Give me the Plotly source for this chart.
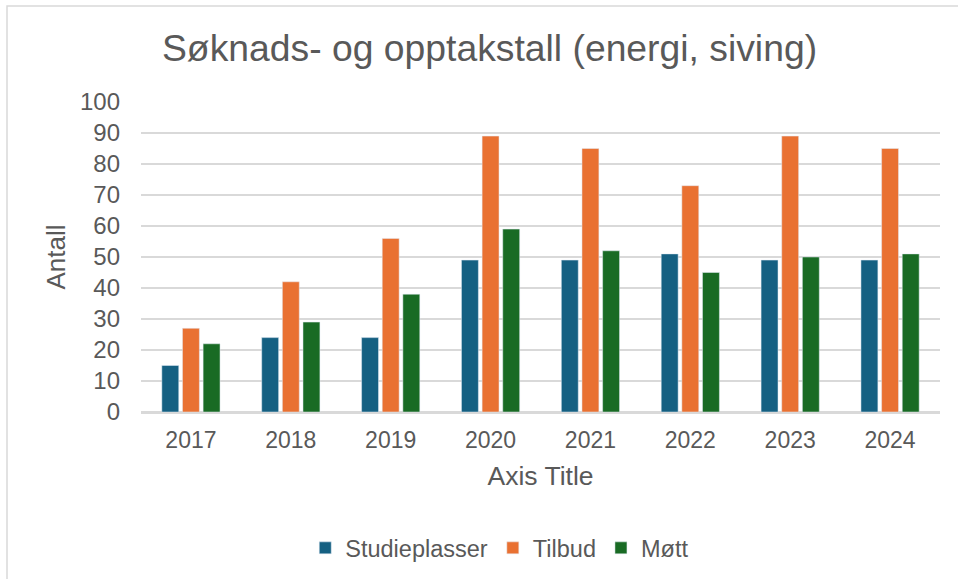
import plotly.graph_objects as go

years = ["2017", "2018", "2019", "2020", "2021", "2022", "2023", "2024"]
studieplasser = [15, 24, 24, 49, 49, 51, 49, 49]
tilbud = [27, 42, 56, 89, 85, 73, 89, 85]
mott = [22, 29, 38, 59, 52, 45, 50, 51]

font = "Liberation Sans, Arial, sans-serif"
grey = "#595959"

fig = go.Figure()
fig.add_trace(go.Bar(name="Studieplasser", x=years, y=studieplasser, marker_color="#156082"))
fig.add_trace(go.Bar(name="Tilbud", x=years, y=tilbud, marker_color="#E97132"))
fig.add_trace(go.Bar(name="Møtt", x=years, y=mott, marker_color="#196B24"))

fig.update_layout(
    width=958, height=579,
    margin=dict(l=141, r=18, t=102, b=167, autoexpand=False),
    paper_bgcolor="white", plot_bgcolor="white",
    barmode="group", bargap=0.38, bargroupgap=0.18,
    font=dict(family=font, color=grey, size=23),
    title=dict(text="Søknads- og opptakstall (energi, siving)", x=0.511, xanchor="center",
               y=0.918, yanchor="middle", font=dict(size=37.3, color=grey)),
    legend=dict(orientation="h", x=0.449, xanchor="center", y=-0.439, yanchor="middle",
                font=dict(size=23.5, color=grey), itemwidth=30, traceorder="normal"),
    showlegend=True,
)
fig.update_xaxes(
    showgrid=False, showline=True, linecolor="#d9d9d9", linewidth=1.5,
    ticks="", ticklabelstandoff=7, tickfont=dict(size=23, color=grey),
    title=dict(text="Axis Title", font=dict(size=26.5, color=grey), standoff=14),
)
fig.update_yaxes(
    range=[0, 100], dtick=10, showgrid=True, gridcolor="#d9d9d9", gridwidth=1.5,
    zeroline=True, zerolinecolor="#d9d9d9", zerolinewidth=1.5,
    ticks="", ticklabelstandoff=20, tickfont=dict(size=24, color=grey),
    title=dict(text="Antall", font=dict(size=26, color=grey), standoff=6),
)
# chart frame: only the top and left edges fall inside the picture
fig.add_shape(type="rect", xref="paper", yref="paper",
              x0=-0.1677, x1=1.1, y0=-0.8, y1=1.31,
              line=dict(color="#d9d9d9", width=1.5), layer="below")

# page body has a default 8px margin; drop it so the figure sits at the window corner
fig.write_html("out.html", config={"displayModeBar": False},
               post_script="document.body.style.margin='0';")
